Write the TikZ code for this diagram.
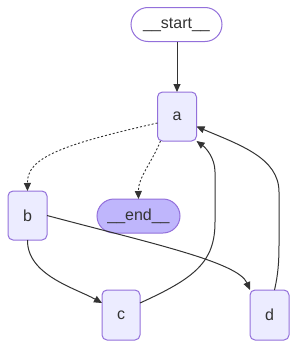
\documentclass[tikz,border=0pt]{standalone}
\usepackage{fontspec}
\setmainfont{Liberation Sans}
\usetikzlibrary{arrows.meta,calc}
\definecolor{nodefill}{HTML}{ECECFF}
\definecolor{nodeline}{HTML}{9370DB}
\definecolor{endfill}{HTML}{BFB6FC}
\definecolor{edgecol}{HTML}{333333}
\begin{document}
\begin{tikzpicture}[x=1pt,y=-1pt,
  base/.style={draw=nodeline,line width=1pt,inner sep=0pt,outer sep=0pt,text=edgecol,font=\fontsize{16}{18}\selectfont},
  stepbox/.style={base,fill=nodefill,rounded corners=5pt,minimum width=39pt,minimum height=49pt},
  pill/.style={base,rounded corners=17pt,minimum height=34pt},
  conn/.style={draw=edgecol,line width=1pt,-{Triangle[length=8pt,width=7pt]}},
  dotconn/.style={conn,line width=0.9pt,dash pattern=on 2pt off 2pt}]
\useasboundingbox (0,0) rectangle (297,348);
\node[pill,fill=white,minimum width=91pt] (start) at (176.5,24.5) {\_\_start\_\_};
\node[stepbox] (a) at (177,116.5) {a};
\node[stepbox] (b) at (27.5,215.5) {b};
\node[pill,fill=endfill,minimum width=83pt] (end) at (138.5,216) {\_\_end\_\_};
\node[stepbox,minimum height=50pt,minimum width=38pt] (c) at (121,315) {c};
\node[stepbox,minimum height=50pt] (d) at (269.5,315) {d};

\draw[conn] (start.south -| a.north) -- (a.north);
\draw[dotconn] ($(a.west)+(0,6.5)$) .. controls (60,145) and (27,158) .. (b.north);
\draw[dotconn] ($(a.south west)+(3,0)$) .. controls (152,162) and (138,178) .. (end.north);
\draw[conn] (b.south) .. controls (27,275) and (75,288) .. ($(c.west)+(0,-12)$);
\draw[conn] (b.east) .. controls (150,243) and (238,262) .. ($(d.north west)+(0,0)$);
\draw[conn] ($(c.east)+(0,-12)$) .. controls (195,278) and (215,262) .. (215,222)
   -- (215,172) .. controls (215,158) and (206,148) .. (a.south east);
\draw[conn] ($(d.north)+(5,0)$) .. controls (278,275) and (279,262) .. (279,245)
   -- (279,192) .. controls (279,158) and (240,145) .. ($(a.east)+(0,10)$);
\end{tikzpicture}
\end{document}
